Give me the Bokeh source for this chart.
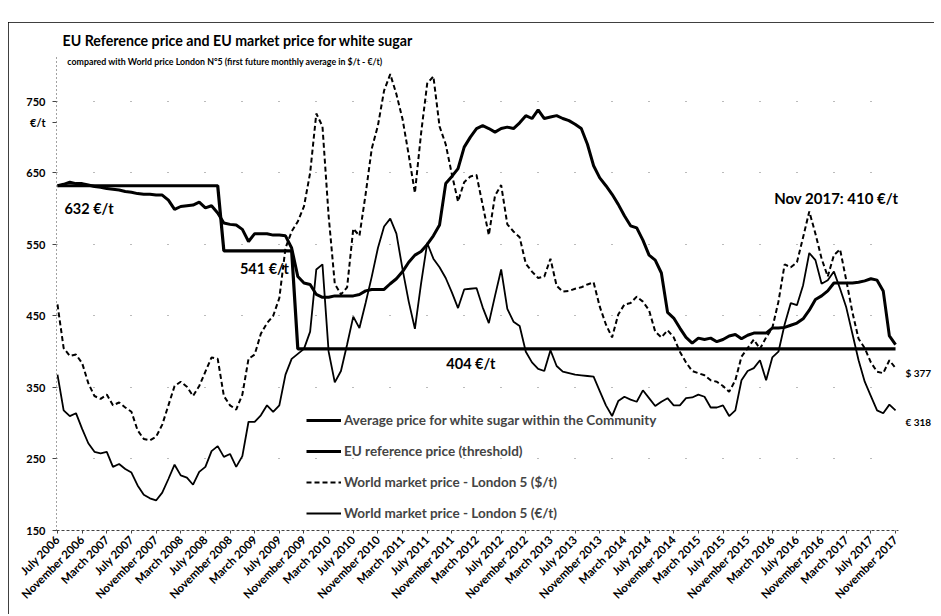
import math
from bokeh.plotting import figure
from bokeh.models import (ColumnDataSource, FixedTicker, Label, Legend, LegendItem,
                          LinearAxis, Range1d, Spacer)
from bokeh.layouts import column, row
from bokeh.embed import file_html
from bokeh.resources import INLINE

FONT = "Lato"

# ---------------- data (monthly, July 2006 .. November 2017) ----------------
tick_labels = ["July 2006", "November 2006", "March 2007", "July 2007", "November 2007",
               "March 2008", "July 2008", "November 2008", "March 2009", "July 2009",
               "November 2009", "March 2010", "July 2010", "November 2010", "March 2011",
               "July 2011", "November 2011", "March 2012", "July 2012", "November 2012",
               "March 2013", "July 2013", "November 2013", "March 2014", "July 2014",
               "November 2014", "March 2015", "July 2015", "November 2015", "March 2016",
               "July 2016", "November 2016", "March 2017", "July 2017", "November 2017"]

avg_eu_price = [632, 634, 637, 635, 635, 633, 631, 630, 628, 627,
                626, 624, 623, 621, 620, 620, 619, 619, 612, 599,
                603, 604, 605, 609, 601, 604, 594, 580, 578, 577,
                571, 554, 565, 565, 565, 563, 563, 562, 545, 505,
                496, 494, 480, 476, 476, 478, 478, 478, 478, 480,
                485, 487, 487, 487, 495, 502, 512, 525, 535, 540,
                550, 562, 577, 635, 645, 656, 686, 700, 712, 716,
                712, 707, 712, 714, 712, 720, 730, 726, 738, 726,
                728, 730, 726, 723, 718, 712, 690, 660, 643, 632,
                620, 606, 590, 576, 573, 556, 535, 528, 510, 455,
                447, 433, 420, 412, 419, 417, 419, 414, 417, 422,
                424, 418, 423, 426, 426, 426, 433, 433, 434, 437,
                440, 446, 458, 473, 478, 485, 496, 496, 496, 496,
                497, 499, 502, 500, 485, 422, 410]

eu_reference_price = [632, 632, 632, 632, 632, 632, 632, 632, 632, 632,
                      632, 632, 632, 632, 632, 632, 632, 632, 632, 632,
                      632, 632, 632, 632, 632, 632, 632, 541, 541, 541,
                      541, 541, 541, 541, 541, 541, 541, 541, 541, 404,
                      404, 404, 404, 404, 404, 404, 404, 404, 404, 404,
                      404, 404, 404, 404, 404, 404, 404, 404, 404, 404,
                      404, 404, 404, 404, 404, 404, 404, 404, 404, 404,
                      404, 404, 404, 404, 404, 404, 404, 404, 404, 404,
                      404, 404, 404, 404, 404, 404, 404, 404, 404, 404,
                      404, 404, 404, 404, 404, 404, 404, 404, 404, 404,
                      404, 404, 404, 404, 404, 404, 404, 404, 404, 404,
                      404, 404, 404, 404, 404, 404, 404, 404, 404, 404,
                      404, 404, 404, 404, 404, 404, 404, 404, 404, 404,
                      404, 404, 404, 404, 404, 404, 404]

world_usd = [466, 405, 394, 396, 384, 356, 338, 334, 340, 325,
             329, 322, 316, 290, 278, 276, 281, 298, 325, 352,
             358, 351, 338, 352, 372, 392, 390, 338, 325, 319,
             340, 390, 396, 425, 440, 450, 475, 545, 568, 582,
             603, 650, 733, 715, 590, 495, 480, 490, 572, 562,
             620, 684, 716, 765, 788, 760, 725, 675, 622, 705,
             775, 785, 715, 690, 648, 610, 637, 645, 647, 605,
             563, 618, 633, 578, 568, 560, 523, 512, 503, 505,
             530, 492, 484, 485, 488, 490, 494, 497, 463, 438,
             420, 452, 466, 468, 477, 470, 458, 428, 420, 430,
             420, 400, 385, 373, 370, 367, 360, 358, 352, 344,
             360, 393, 405, 417, 404, 420, 433, 470, 522, 518,
             525, 560, 596, 565, 530, 505, 535, 543, 500, 455,
             418, 405, 385, 372, 370, 388, 377]

world_eur = [368, 318, 310, 314, 292, 272, 260, 258, 260, 239,
             243, 236, 231, 213, 200, 195, 192, 203, 222, 242,
             227, 224, 214, 232, 239, 261, 268, 253, 257, 239,
             254, 302, 302, 311, 325, 316, 325, 368, 390, 397,
             404, 428, 515, 522, 400, 357, 373, 410, 449, 433,
             468, 505, 545, 575, 586, 565, 515, 470, 432, 495,
             552, 530, 518, 503, 483, 461, 487, 488, 489, 462,
             440, 478, 515, 460, 442, 436, 400, 385, 376, 373,
             402, 380, 372, 370, 368, 367, 366, 365, 345, 325,
             310, 331, 337, 333, 330, 346, 335, 324, 330, 335,
             325, 325, 335, 336, 340, 337, 322, 322, 325, 310,
             318, 360, 373, 377, 388, 360, 392, 400, 438, 468,
             465, 493, 538, 528, 495, 500, 512, 488, 462, 425,
             388, 358, 338, 318, 314, 326, 318]

month_index = list(range(len(avg_eu_price)))
tick_positions = list(range(0, len(month_index), 4))
y_ticks = [150, 250, 350, 450, 550, 650, 750]
unit_label_pos = 721          # where "€/t" sits on the value axis
end_label_pos = [370, 302]    # where the end values are written on the right
end_labels = ["$ 377", "€ 318"]

source = ColumnDataSource(dict(x=month_index, avg=avg_eu_price, ref=eu_reference_price,
                               usd=world_usd, eur=world_eur))

# ---------------- figure ----------------
p = figure(width=926, height=592,
           x_range=Range1d(-0.161, 136.48), y_range=Range1d(150, 812.7),
           output_backend="svg", toolbar_location=None,
           min_border_left=48, min_border_right=29, min_border_top=32, min_border_bottom=84)
p.outline_line_color = None
p.background_fill_color = "white"
p.border_fill_color = "white"
p.styles = {"outline": "2px solid black", "outline-offset": "-2px"}

# title
p.title.text = "EU Reference price and EU market price for white sugar"
p.title.text_font = FONT
p.title.text_font_style = "bold"
p.title.text_font_size = "14.2px"
p.title.text_color = "black"
p.title.align = "left"
p.title.offset = 6
p.title.standoff = 15

# x axis
p.xaxis.ticker = FixedTicker(ticks=tick_positions)
p.xaxis.major_label_overrides = {t: lab for t, lab in zip(tick_positions, tick_labels)}
p.xaxis.major_label_orientation = math.pi / 4
p.xaxis.major_label_text_font = FONT
p.xaxis.major_label_text_font_style = "bold"
p.xaxis.major_label_text_font_size = "11.5px"
p.xaxis.major_label_text_color = "black"
p.xaxis.axis_line_color = "#444444"
p.xaxis.axis_line_dash = "3 2"
p.xaxis.major_tick_out = 3
p.xaxis.major_tick_in = 0
p.xaxis.major_tick_line_color = "#444444"
p.xaxis.minor_tick_line_color = None
p.xaxis.major_label_standoff = 4

# y axis (with the unit written under the top value)
p.yaxis.ticker = FixedTicker(ticks=y_ticks + [unit_label_pos])
p.yaxis.major_label_overrides = {unit_label_pos: "€/t"}
p.yaxis.major_label_text_font = FONT
p.yaxis.major_label_text_font_style = "bold"
p.yaxis.major_label_text_font_size = "11px"
p.yaxis.major_label_text_color = "black"
p.yaxis.axis_line_color = "#444444"
p.yaxis.axis_line_dash = "1 3"
p.yaxis.major_tick_out = 4
p.yaxis.major_tick_in = 0
p.yaxis.major_tick_line_color = "#444444"
p.yaxis.minor_tick_line_color = None
p.yaxis.major_label_standoff = 7

# right-hand axis carrying only the end-value notes
right_axis = LinearAxis(ticker=FixedTicker(ticks=end_label_pos),
                        major_label_overrides=dict(zip(end_label_pos, end_labels)))
right_axis.axis_line_color = None
right_axis.major_tick_line_color = None
right_axis.minor_tick_line_color = None
right_axis.major_label_standoff = 1
right_axis.major_label_text_font = FONT
right_axis.major_label_text_font_style = "bold"
right_axis.major_label_text_font_size = "10px"
right_axis.major_label_text_color = "black"
p.add_layout(right_axis, "right")

p.xgrid.visible = False
p.ygrid.ticker = FixedTicker(ticks=y_ticks)
p.ygrid.grid_line_color = "#777777"
p.ygrid.grid_line_dash = "1 36"
p.ygrid.grid_line_width = 1

# series
r_ref = p.line("x", "ref", source=source, line_color="black", line_width=3.2)
r_avg = p.line("x", "avg", source=source, line_color="black", line_width=3)
r_usd = p.line("x", "usd", source=source, line_color="black", line_width=2, line_dash="5 3")
r_eur = p.line("x", "eur", source=source, line_color="black", line_width=1.8)

legend = Legend(items=[
    LegendItem(label="Average price for white sugar within the Community", renderers=[r_avg]),
    LegendItem(label="EU reference price (threshold)", renderers=[r_ref]),
    LegendItem(label="World market price - London 5 ($/t)", renderers=[r_usd]),
    LegendItem(label="World market price - London 5 (€/t)", renderers=[r_eur]),
], location=(250, 7), orientation="vertical")
legend.background_fill_alpha = 0
legend.border_line_color = None
legend.label_text_font = FONT
legend.label_text_font_style = "bold"
legend.label_text_font_size = "13.5px"
legend.glyph_width = 35
legend.glyph_height = 20
legend.label_height = 20
legend.spacing = 11
legend.padding = 0
legend.margin = 0
legend.label_standoff = 3
p.add_layout(legend)

def add_label(x, y, text, size):
    p.add_layout(Label(x=x, y=y, text=text, text_font=FONT, text_font_style="bold",
                       text_font_size=size, text_color="black",
                       text_baseline="middle", text_align="left"))

add_label(1.6, 805.5, "compared with World price London N°5 (first future monthly average in $/t - €/t)", "8.8px")
add_label(1.13, 600, "632 €/t", "14.5px")
add_label(29.6, 516, "541 €/t", "14.5px")
add_label(63.1, 384, "404 €/t", "14.5px")
add_label(116.3, 615, "Nov 2017: 410 €/t", "15px")

layout = column(Spacer(height=22), row(Spacer(width=8), p))
open("out.html", "w").write(file_html(layout, INLINE))
